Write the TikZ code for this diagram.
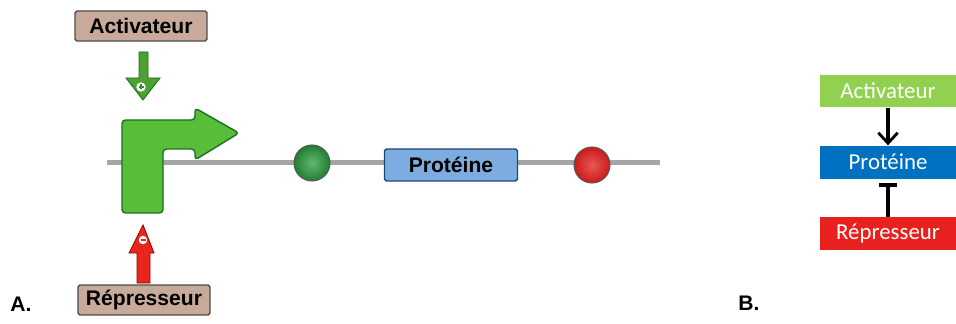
\documentclass[tikz,border=0pt]{standalone}
\usepackage{fontspec}
\setmainfont{Liberation Sans}
\newfontfamily\calibri{Carlito}
\usepackage{tikz}
\usetikzlibrary{arrows.meta, positioning, calc}

\definecolor{tanbox}{RGB}{200,170,155}
\definecolor{protA}{RGB}{125,172,225}
\definecolor{protAline}{RGB}{30,70,120}
\definecolor{greenA}{RGB}{88,190,58}
\definecolor{greenAline}{RGB}{30,110,30}
\definecolor{redA}{RGB}{232,38,30}
\definecolor{greenball}{RGB}{36,150,56}
\definecolor{redball}{RGB}{225,30,30}
\definecolor{greenB}{RGB}{146,208,80}
\definecolor{blueB}{RGB}{0,112,192}
\definecolor{redB}{RGB}{232,32,30}
\definecolor{dnaline}{RGB}{165,165,165}

\begin{document}
\begin{tikzpicture}[x=0.02cm, y=-0.02cm,
        box/.style={draw=black!70, line width=0.8pt, rounded corners=1pt, fill=tanbox,
            minimum width=2.64cm, minimum height=0.6cm, inner sep=0pt,
            font=\fontsize{12}{14}\selectfont\bfseries},
        protbox/.style={draw=protAline, line width=0.8pt, rounded corners=1pt, fill=protA,
            minimum width=2.66cm, minimum height=0.64cm, inner sep=0pt,
            font=\fontsize{12}{14}\selectfont\bfseries},
        flat/.style={minimum width=2.72cm, minimum height=0.66cm, inner sep=0pt,
            text=white, font=\calibri\fontsize{13}{15}\selectfont},
        site/.style={circle, minimum size=0.72cm, inner sep=0pt, draw=black!65, line width=0.6pt},
        panel/.style={font=\fontsize{12}{14}\selectfont\bfseries}
    ]
    \useasboundingbox (0,0) rectangle (956,324);

    % panel A
    \node[box] (act) at (141,26) {Activateur};
    \node[box] (rep) at (144,300) {Répresseur};
    \coordinate (dnaL) at (107,163);
    \coordinate (dnaR) at (660,163);
    \draw[dnaline, line width=0.1cm] (dnaL) -- (dnaR);

    % promoter
    \draw[greenAline, line width=0.8pt, fill=greenA, rounded corners=2pt]
        (122,120) -- (195,120) -- (195,108) -- (239,133) -- (195,160) -- (195,149)
        -- (163,149) -- (163,213) -- (122,213) -- cycle;

    \node[site, inner color=greenball!70!white, outer color=greenball!85!black] (opA) at (312,163) {};
    \node[protbox] (prot) at (451,165) {Protéine};
    \node[site, inner color=redball!75!white, outer color=redball!90!black] (opR) at (592,165) {};

    % activator / repressor arrows
    \draw[greenAline, line width=0.5pt, fill=greenA!85!black]
        (139,52) -- (148,52) -- (148,78) -- (160,78) -- (143,100) -- (126,78) -- (139,78) -- cycle;
    \node[circle, draw=white, fill=white, line width=0.4pt, minimum size=0.17cm, inner sep=0pt] (plus) at (141,87) {};
    \draw[greenA!70!black, line width=0.8pt] ($(plus)+(-2.5,0)$) -- ($(plus)+(2.5,0)$)
        ($(plus)+(0,-2.5)$) -- ($(plus)+(0,2.5)$);
    \draw[red!60!black, line width=0.5pt, fill=redA]
        (137,283) -- (150,283) -- (150,253) -- (154,253) -- (143,225) -- (129,253) -- (137,253) -- cycle;
    \node[circle, fill=white, minimum size=0.17cm, inner sep=0pt] (minus) at (143,240) {};
    \draw[redA, line width=0.8pt] ($(minus)+(-2.5,0)$) -- ($(minus)+(2.5,0)$);

    \node[panel] (labA) at (21,304) {A.};

    % panel B
    \node[flat, fill=greenB] (actB) at (888,91) {Activateur};
    \node[flat, fill=blueB, below=0.75cm of actB] (protB) {Protéine};
    \node[flat, fill=redB, below=0.76cm of protB] (repB) {Répresseur};
    \draw[-{Straight Barb[length=6pt, width=11pt, line width=1.6pt]}, line width=2pt]
        (actB) -- (protB);
    \draw[-{Bar[width=10pt, line width=2pt]}, line width=2pt]
        (repB) -- ($(protB.south)+(0,4)$);
    \node[panel] (labB) at (749,303) {B.};
\end{tikzpicture}
\end{document}
